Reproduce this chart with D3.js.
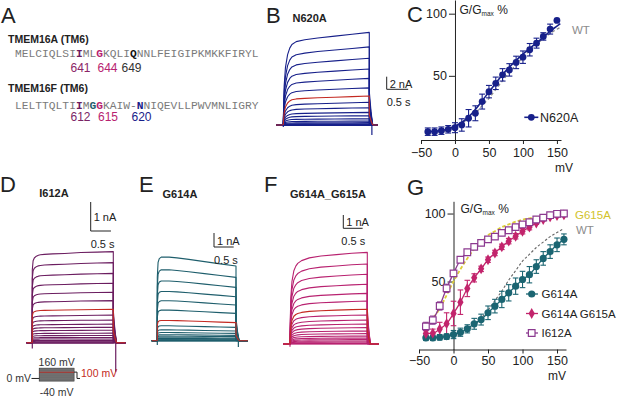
<!DOCTYPE html>
<html>
<head>
<meta charset="utf-8">
<script src="https://cdn.jsdelivr.net/npm/d3@7"></script>
<style>
  body { margin: 0; background: #fff; }
  svg { font-family: "Liberation Sans", Arial, sans-serif; }
</style>
</head>
<body>
<svg id="fig" width="617" height="397"></svg>
<script>
// ---- data ----
const steps = [-40, -30, -20, -10, 0, 10, 20, 30, 40, 50, 60, 70, 80, 90, 100, 110, 120, 130, 140, 150, 160]

const seqA = "MELCIQLSIIMLGKQLIQNNLFEIGIPKMKKFIRYL"
const seqF = "LELTTQLTIIMGGKAIW-NNIQEVLLPWVMNLIGRY"
const numsA = ["641", "644", "649"]
const numsF = ["612", "615", "620"]

// normalised current time course (t in s) for each trace panel
const shapeT = [0, 0.02, 0.05, 0.1, 0.15, 0.2, 0.3, 0.5, 0.8, 1.2, 1.6, 2.0]
const shapeB = [0.05, 0.42, 0.62, 0.76, 0.83, 0.87, 0.9, 0.92, 0.94, 0.96, 0.98, 1.0]
const shapeD = [0.8, 0.9, 0.93, 0.95, 0.96, 0.965, 0.97, 0.975, 0.98, 0.99, 0.995, 1.0]
const shapeE = [0.85, 1.05, 1.1, 1.12, 1.12, 1.12, 1.12, 1.11, 1.09, 1.06, 1.03, 1.0]
const shapeF = [0.1, 0.5, 0.68, 0.8, 0.85, 0.88, 0.91, 0.94, 0.96, 0.975, 0.99, 1.0]

// steady-state current (nA) at the end of each step
const ampB = [-0.05, -0.03, -0.02, 0, 0.03, 0.1, 0.21, 0.37, 0.63, 1.0, 1.48, 2.0, 2.75, 3.6, 4.6, 5.9, 7.4, 8.9, 10.6, 12.4, 14.7]
const ampD = [-0.02, 0, 0.02, 0.05, 0.08, 0.13, 0.18, 0.25, 0.33, 0.43, 0.53, 0.64, 0.78, 0.95, 1.15, 1.45, 1.74, 2.05, 2.39, 2.76, 3.14]
const ampE = [0, 0, 0, 0, 0.02, 0.05, 0.1, 0.14, 0.19, 0.29, 0.38, 0.52, 0.69, 0.95, 1.29, 1.95, 2.55, 3.14, 3.81, 4.52, 5.33]
const ampF = [0, 0.03, 0.08, 0.15, 0.23, 0.33, 0.45, 0.6, 0.78, 0.98, 1.23, 1.5, 1.8, 2.18, 2.61, 3.23, 3.81, 4.49, 5.24, 6.02, 6.89]

// tail fraction and capacitive spikes (nA) [start, end]
const tailFrac = [0.36, 0.35, 0.3, 0.38]
const spikeB = [-0.3, -1.6]
const spikeD = [-0.2, -1.0]
const spikeE = [-0.3, -0.45]
const spikeF = [-0.2, 0]

// panel C: N620A conductance
const cVolts = [-40, -30, -20, -10, 0, 10, 20, 30, 40, 50, 60, 70, 80, 90, 100, 110, 120, 130, 140, 150]
const cN620A = [5.1, 5.1, 5.9, 7, 8.3, 10.5, 15.9, 19.9, 29.3, 37.3, 44, 50.8, 54.8, 60.8, 65, 71, 76.3, 81.7, 87.6, 94.6]
const cN620AErr = [3, 3, 3, 3, 4, 5, 7, 6, 6, 5, 5, 5, 5, 5, 5, 5, 4, 3, 4, 0]
const fitVolts = [-40, -30, -20, -10, 0, 10, 20, 30, 40, 50, 60, 70, 80, 90, 100, 110, 120, 130, 140, 150, 155]
const cFitN620A = [5, 5.5, 6, 7.5, 9.5, 12.5, 17, 23, 30, 37, 44, 51, 57, 62.5, 67.5, 72, 76.5, 81, 86, 90, 92]
const cFitWT = [3, 4, 5, 6.5, 9, 12, 15.5, 20, 26, 32, 39, 46, 53, 59, 65, 70.5, 75.5, 80, 84, 87.5, 89]

// panel G
const gG614A = [8.6, 8.6, 9, 9.5, 11, 12.7, 15.2, 18.9, 22, 27, 31.9, 36.8, 41.7, 46.6, 51.5, 55, 61, 67, 72, 77, 81]
const gG614AErr = [2, 2, 2, 2, 3, 3, 3, 4, 4, 5, 5, 6, 6, 6, 6, 6, 5, 5, 5, 5, 4]
const gDouble = [11.8, 12, 15, 19, 26.5, 34.8, 44.9, 52.7, 59.3, 66, 71, 75.5, 79.7, 83.3, 87, 90, 93, 95.6, 97.5, 98.5, 99]
const gDoubleErr = [2, 3, 5, 8, 9, 9, 6, 3, 2, 2, 2, 2, 2, 2, 2, 2, 1, 1, 1, 1, 1]
const gI612A = [17, 21.6, 32, 45, 56, 66, 71.5, 75.5, 78.4, 81, 83, 85.8, 87.7, 90, 92, 93.6, 95.6, 97, 98.8, 99.8, 100]
const gI612AErr = [3, 3, 3, 3, 2, 2, 2, 2, 2, 2, 2, 2, 2, 2, 1, 1, 1, 1, 1, 1, 1]
const gFitG615A = [18, 23, 30, 40, 50, 59, 67, 74, 79, 84, 87, 90, 92, 94, 95.5, 96.5, 97.5, 98, 98.5, 99, 99.3]
const gFitWT = [3, 4, 5, 6.5, 9, 11, 14, 18, 23, 29, 36, 43, 51, 58, 65, 70, 75, 79, 83, 86, 89]

// ---- colours ----
const navy = "#17208a"
const plum = "#6b1d60"
const teal = "#1e5e6c"
const magenta = "#b82270"
const red = "#c42a22"

const svg = d3.select("#fig")

function txt(x, y, s, size, opts = {}) {
    return svg.append("text")
        .attr("x", x).attr("y", y)
        .attr("font-size", size)
        .attr("fill", opts.fill || "#222")
        .attr("font-weight", opts.bold ? "bold" : null)
        .attr("text-anchor", opts.anchor || "start")
        .text(s)
}

// panel letters
txt(1, 23, "A", 22)
txt(266, 23, "B", 22)
txt(407, 22, "C", 22)
txt(0, 192, "D", 22)
txt(139, 192, "E", 22)
txt(264, 192, "F", 22)
txt(407, 195, "G", 22)

// ---- panel A: sequences ----
function sequence(y, seq, marks) {
    const t = svg.append("text").attr("x", 15).attr("y", y)
        .attr("font-family", "'Liberation Mono', 'Courier New', monospace")
        .attr("font-size", 11.25)
    seq.split("").forEach((ch, i) => {
        const m = marks[i]
        t.append("tspan")
            .attr("fill", m ? m : "#7a7a7a")
            .attr("font-weight", m ? "bold" : null)
            .text(ch)
    })
}
txt(8, 43, "TMEM16A (TM6)", 10.5, { bold: true })
sequence(57, seqA, { 9: plum, 12: magenta, 17: "#111" })
txt(70.5, 72, numsA[0], 12, { fill: "#8a2466" })
txt(97.5, 72, numsA[1], 12, { fill: magenta })
txt(121.5, 72, numsA[2], 12, { fill: "#333" })

txt(8, 92, "TMEM16F (TM6)", 10.5, { bold: true })
sequence(108.5, seqF, { 9: plum, 11: teal, 12: magenta, 18: navy })
txt(70.5, 121, numsF[0], 12, { fill: "#7a2466" })
txt(98, 121, numsF[1], 12, { fill: magenta })
txt(131.5, 121, numsF[2], 12, { fill: navy })

// ---- current trace panels ----
function tracePanel(p) {
    const x = d3.scaleLinear().domain([0, 2]).range([p.x0, p.x1])
    const y = d3.scaleLinear().domain([0, 1]).range([p.base, p.base - p.pxPerNA])
    const line = d3.line().x(d => x(d[0])).y(d => y(d[1]))
    const g = svg.append("g")
    const redIdx = steps.indexOf(100)

    const traces = p.amp.map((a, i) => {
        const pts = [[p.tStart, 0], [0, 0]]
        shapeT.forEach((t, k) => pts.push([t, a * p.shape[k]]))
        pts.push([2, a * p.tail], [2.04, a * p.tail * 0.4], [2.08, 0], [p.tEnd, 0])
        return { i, pts }
    })
    const order = traces.filter(d => d.i !== redIdx).concat(traces.filter(d => d.i === redIdx))
    g.selectAll("path.tr").data(order).enter().append("path")
        .attr("class", "tr")
        .attr("d", d => line(d.pts))
        .attr("fill", "none")
        .attr("stroke", d => d.i === redIdx ? red : p.color)
        .attr("stroke-width", 1.1)
        .attr("stroke-linejoin", "round")

    // capacitive spikes
    g.append("line").attr("x1", x(0)).attr("x2", x(0))
        .attr("y1", y(0)).attr("y2", y(p.spike[0]))
        .attr("stroke", p.color).attr("stroke-width", 1.2)
    g.append("line").attr("x1", x(2.06)).attr("x2", x(2.06))
        .attr("y1", y(0)).attr("y2", y(p.spike[1]))
        .attr("stroke", p.color).attr("stroke-width", 1.2)

    // scale bar
    const bx = p.barX, by = p.barY
    const hLen = x(0.5) - x(0)
    const vLen = y(0) - y(p.barNA)
    svg.append("path")
        .attr("d", `M${bx},${by - vLen}V${by}H${bx + hLen}`)
        .attr("fill", "none").attr("stroke", "#222").attr("stroke-width", 1)
    txt(bx + 3, by - vLen / 2 + 4.5, p.barNA + " nA", 11)
    txt(bx + p.sOff, by + 16.5, "0.5 s", 11)

    txt(p.titleX, p.titleY, p.title, 11, { bold: true })
}

tracePanel({ title: "N620A", titleX: 292.5, titleY: 22, amp: ampB, shape: shapeB, tail: tailFrac[0], spike: spikeB,
    x0: 283.3, x1: 369.3, base: 125, pxPerNA: 6.3, tStart: -0.17, tEnd: 2.2, color: navy,
    barX: 386.7, barY: 89.3, barNA: 2, sOff: 0 })
tracePanel({ title: "I612A", titleX: 39.3, titleY: 197, amp: ampD, shape: shapeD, tail: tailFrac[1], spike: spikeD,
    x0: 32.3, x1: 113.3, base: 342.7, pxPerNA: 29, tStart: -0.14, tEnd: 2.3, color: plum,
    barX: 90.7, barY: 231, barNA: 1, sOff: 0 })
tracePanel({ title: "G614A", titleX: 162.5, titleY: 198, amp: ampE, shape: shapeE, tail: tailFrac[2], spike: spikeE,
    x0: 157.3, x1: 236, base: 340.7, pxPerNA: 14, tStart: -0.14, tEnd: 2.3, color: teal,
    barX: 214, barY: 247, barNA: 1, sOff: 0 })
tracePanel({ title: "G614A_G615A", titleX: 290, titleY: 198, amp: ampF, shape: shapeF, tail: tailFrac[3], spike: spikeF,
    x0: 290, x1: 367.3, base: 344, pxPerNA: 13.3, tStart: -0.17, tEnd: 2.3, color: magenta,
    barX: 343.3, barY: 228.3, barNA: 1, sOff: -2 })

// ---- voltage protocol under D ----
const pv = d3.scaleLinear().domain([-40, 160]).range([381, 368.3])
svg.append("rect").attr("x", 39.3).attr("y", pv(160)).attr("width", 34.7).attr("height", pv(-40) - pv(160))
    .attr("fill", "#555").attr("stroke", "#222").attr("stroke-width", 0.8)
svg.selectAll("line.prot").data(steps).enter().append("line")
    .attr("class", "prot")
    .attr("x1", 39.3).attr("x2", 74)
    .attr("y1", d => pv(d)).attr("y2", d => pv(d))
    .attr("stroke", d => d === 100 ? red : "#8a8a8a")
    .attr("stroke-width", d => d === 100 ? 1 : 0.4)
svg.append("path")
    .attr("d", `M31.5,${pv(0)}H39.3M74,${pv(100)}H77V${pv(0)}H80`)
    .attr("fill", "none").attr("stroke", "#222").attr("stroke-width", 1)
txt(56.7, 365.5, "160 mV", 10.5, { anchor: "middle", fill: "#333" })
txt(56.7, 396, "-40 mV", 10.5, { anchor: "middle", fill: "#333" })
txt(31, 382, "0 mV", 10.5, { anchor: "end", fill: "#333" })
txt(81, 376.5, "100 mV", 10.5, { fill: red })

// ---- helpers for G/Gmax plots ----
function axisStyle(g, size) {
    g.selectAll("text").attr("font-size", size).attr("font-family", "'Liberation Sans', Arial, sans-serif").attr("fill", "#222")
    g.selectAll("line,path").attr("stroke", "#222")
}
function ggLabel(x, y) {
    const t = svg.append("text").attr("x", x).attr("y", y).attr("font-size", 12).attr("fill", "#222")
    t.append("tspan").text("G/G")
    t.append("tspan").attr("font-size", 6.5).attr("dy", 2).text("max")
    t.append("tspan").attr("dy", -2).text(" %")
}
function errorBars(x, y, volts, vals, errs, color, hw) {
    const g = svg.append("g").attr("stroke", color).attr("stroke-width", 1.1)
    volts.forEach((v, i) => {
        if (!errs[i]) return
        const px = x(v), top = y(vals[i] + errs[i]), bot = y(vals[i] - errs[i])
        g.append("line").attr("x1", px).attr("x2", px).attr("y1", top).attr("y2", bot)
        g.append("line").attr("x1", px - hw).attr("x2", px + hw).attr("y1", top).attr("y2", top)
        g.append("line").attr("x1", px - hw).attr("x2", px + hw).attr("y1", bot).attr("y2", bot)
    })
}

// ---- panel C ----
const cx = d3.scaleLinear().domain([-50, 156]).range([421, 561])
const cy = d3.scaleLinear().domain([-1.6, 111]).range([140, 0])
const cXa = svg.append("g").attr("transform", "translate(0,140)")
    .call(d3.axisBottom(cx).tickValues([-50, 0, 50, 100, 150]).tickSize(4).tickSizeOuter(0).tickPadding(4))
axisStyle(cXa, 12.5)
const cYa = svg.append("g").attr("transform", `translate(${cx(0)},0)`)
    .call(d3.axisLeft(cy).tickValues([50, 100]).tickSize(6).tickSizeOuter(0).tickPadding(2))
axisStyle(cYa, 12.5)
ggLabel(459.5, 14)
txt(564, 171.5, "mV", 12, { anchor: "middle" })

const cLine = d3.line().x((d, i) => cx(fitVolts[i])).y(d => cy(d)).curve(d3.curveMonotoneX)
svg.append("path").attr("d", cLine(cFitWT)).attr("fill", "none")
    .attr("stroke", "#8c8c8c").attr("stroke-width", 1.3).attr("stroke-dasharray", "3,2.5")
errorBars(cx, cy, cVolts, cN620A, cN620AErr, navy, 3)
svg.append("path").attr("d", cLine(cFitN620A)).attr("fill", "none")
    .attr("stroke", navy).attr("stroke-width", 1.6)
svg.selectAll("circle.c").data(cN620A).enter().append("circle")
    .attr("class", "c")
    .attr("cx", (d, i) => cx(cVolts[i])).attr("cy", d => cy(d)).attr("r", 3.4).attr("fill", navy)
txt(572, 34, "WT", 11.5, { fill: "#8c8c8c" })
svg.append("line").attr("x1", 524.3).attr("x2", 538.3).attr("y1", 117.3).attr("y2", 117.3)
    .attr("stroke", navy).attr("stroke-width", 1.6)
svg.append("circle").attr("cx", 531.3).attr("cy", 117.3).attr("r", 3.4).attr("fill", navy)
txt(540, 122, "N620A", 12.5)

// ---- panel G ----
const gx = d3.scaleLinear().domain([-50, 163]).range([419, 566])
const gy = d3.scaleLinear().domain([0, 109]).range([349.5, 201.3])
const gXa = svg.append("g").attr("transform", "translate(0,349.5)")
    .call(d3.axisBottom(gx).tickValues([-50, 0, 50, 100, 150]).tickSize(4).tickSizeOuter(0).tickPadding(3))
axisStyle(gXa, 12.5)
const gYa = svg.append("g").attr("transform", `translate(${gx(0)},0)`)
    .call(d3.axisLeft(gy).tickValues([50, 100]).tickSize(6).tickSizeOuter(0).tickPadding(2))
axisStyle(gYa, 12.5)
ggLabel(460.5, 213)
txt(557, 379.5, "mV", 12, { anchor: "middle" })

const gLine = d3.line().x((d, i) => gx(steps[i])).y(d => gy(d)).curve(d3.curveMonotoneX)
const wtLine = d3.line().x((d, i) => gx(steps[i + 4])).y(d => gy(d)).curve(d3.curveMonotoneX)
svg.append("path").attr("d", wtLine(gFitWT.slice(4))).attr("fill", "none")
    .attr("stroke", "#666").attr("stroke-width", 1.1).attr("stroke-dasharray", "2.5,2")
svg.append("path").attr("d", gLine(gFitG615A)).attr("fill", "none")
    .attr("stroke", "#dccd3a").attr("stroke-width", 1.8).attr("stroke-dasharray", "3.5,2")

const gTeal = "#1b6572"
const gMag = "#c2246c"
const gPurp = "#8c3a90"

errorBars(gx, gy, steps, gG614A, gG614AErr, gTeal, 2.8)
errorBars(gx, gy, steps, gDouble, gDoubleErr, gMag, 2.8)
errorBars(gx, gy, steps, gI612A, gI612AErr, gPurp, 2.8)

;[[gG614A, gTeal], [gDouble, gMag], [gI612A, gPurp]].forEach(([vals, col]) => {
    svg.append("path").attr("d", gLine(vals)).attr("fill", "none").attr("stroke", col).attr("stroke-width", 1.3)
})
svg.selectAll("circle.g1").data(gG614A).enter().append("circle")
    .attr("class", "g1")
    .attr("cx", (d, i) => gx(steps[i])).attr("cy", d => gy(d)).attr("r", 3.6).attr("fill", gTeal)
const diamond = d3.symbol(d3.symbolDiamond, 34)
svg.selectAll("path.g2").data(gDouble).enter().append("path")
    .attr("class", "g2")
    .attr("transform", (d, i) => `translate(${gx(steps[i])},${gy(d)})`)
    .attr("d", diamond).attr("fill", gMag)
const square = d3.symbol(d3.symbolSquare, 44)
svg.selectAll("path.g3").data(gI612A).enter().append("path")
    .attr("class", "g3")
    .attr("transform", (d, i) => `translate(${gx(steps[i])},${gy(d)})`)
    .attr("d", square).attr("fill", "#fff").attr("stroke", gPurp).attr("stroke-width", 1.2)

txt(575, 218.5, "G615A", 11.5, { fill: "#d2c32c" })
txt(576, 233.5, "WT", 11.5, { fill: "#8c8c8c" })

const legend = [["G614A", gTeal, "circle"], ["G614A G615A", gMag, "diamond"], ["I612A", gPurp, "square"]]
legend.forEach(([name, col, kind], i) => {
    const ly = 294 + i * 19.5
    svg.append("line").attr("x1", 526).attr("x2", 538).attr("y1", ly).attr("y2", ly)
        .attr("stroke", col).attr("stroke-width", 1.3)
    if (kind === "circle") svg.append("circle").attr("cx", 531.7).attr("cy", ly).attr("r", 3.6).attr("fill", col)
    if (kind === "diamond") svg.append("path").attr("transform", `translate(531.7,${ly})`).attr("d", diamond).attr("fill", col)
    if (kind === "square") svg.append("path").attr("transform", `translate(531.7,${ly})`).attr("d", square)
        .attr("fill", "#fff").attr("stroke", col).attr("stroke-width", 1.2)
    txt(541.5, ly + 4.3, name, 11.5)
})
</script>
</body>
</html>
